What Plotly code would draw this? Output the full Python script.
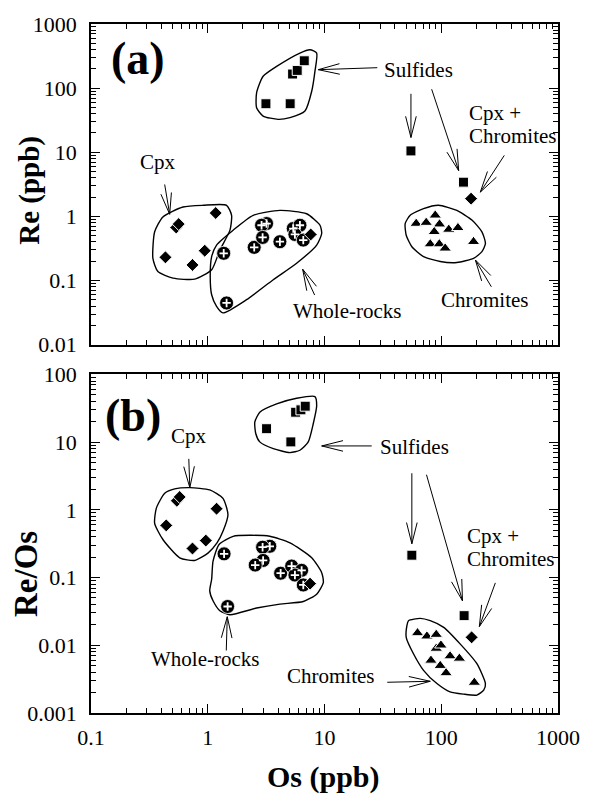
import math
import plotly.graph_objects as go

# ---------------- Panel (a): Re (ppb) vs Os (ppb) ----------------
sulf_os_a = [3.15, 5.08, 5.33, 5.84, 6.71]
sulf_re_a = [57.1, 57.1, 166, 189, 267]
sulf_iso_os_a = [55.0, 155]
sulf_iso_re_a = [10.5, 3.42]
cpx_os_a = [0.434, 0.740, 0.942, 1.17, 0.537, 0.564, 7.62]
cpx_re_a = [0.230, 0.175, 0.292, 1.13, 0.671, 0.760, 0.523]
cpxchr_os_a = [180]
cpxchr_re_a = [1.89]
wr_os_a = [1.37, 1.45, 2.50, 3.19, 2.89, 2.95, 4.15, 5.40, 6.16, 5.58, 6.58]
wr_re_a = [0.266, 0.0447, 0.329, 0.774, 0.728, 0.470, 0.403, 0.647, 0.728, 0.523, 0.427]
chr_os_a = [61.0, 74.3, 88.8, 96.6, 87.1, 116, 139, 80.5, 96.2, 108, 189]
chr_re_a = [0.774, 0.801, 1.04, 0.755, 0.575, 0.625, 0.664, 0.370, 0.370, 0.318, 0.403]

# group outlines, panel (a)
sulf_hull_a_os = [2.62, 2.98, 3.89, 6.16, 7.51, 8.57, 8.28, 7.77, 6.80, 5.06, 4.01, 2.98, 2.62]
sulf_hull_a_re = [84.5, 153, 218, 352, 396, 352, 183, 89.5, 43.9, 34.7, 32.6, 36.7, 49.5]
cpx_hull_a_os = [0.351, 0.413, 0.614, 0.912, 1.45, 1.60, 1.55, 1.27, 1.08, 0.773, 0.504, 0.374, 0.339]
cpx_hull_a_re = [0.575, 0.982, 1.40, 1.49, 1.49, 1.04, 0.610, 0.299, 0.147, 0.105, 0.109, 0.138, 0.222]
wr_hull_a_os = [1.19, 1.65, 2.45, 4.15, 7.03, 9.15, 9.46, 8.57, 5.77, 3.64, 2.15, 1.35, 1.19, 1.08, 1.05, 1.08]
wr_hull_a_re = [0.357, 0.610, 1.04, 1.24, 1.10, 0.728, 0.542, 0.357, 0.186, 0.103, 0.0503, 0.0313,
                0.0397, 0.0601, 0.116, 0.236]
chr_hull_a_os = [49.1, 54.2, 70.5, 94.8, 136, 184, 223, 239, 223, 189, 136, 98.0, 70.5, 56.0, 50.1]
chr_hull_a_re = [0.774, 1.04, 1.32, 1.49, 1.24, 0.871, 0.575, 0.379, 0.282, 0.222, 0.191, 0.198,
                 0.236, 0.337, 0.509]

# ---------------- Panel (b): Re/Os vs Os (ppb) ----------------
sulf_os_b = [3.19, 5.15, 5.66, 6.28, 6.84]
sulf_ratio_b = [15.8, 10.1, 27.7, 30.0, 34.0]
sulf_iso_os_b = [56.0, 157]
sulf_iso_ratio_b = [0.214, 0.0274]
cpx_os_b = [0.441, 0.740, 0.962, 1.19, 0.544, 0.575, 7.52]
cpx_ratio_b = [0.590, 0.269, 0.352, 1.04, 1.36, 1.55, 0.0814]
cpxchr_os_b = [182]
cpxchr_ratio_b = [0.0131]
wr_os_b = [1.38, 1.48, 3.40, 2.95, 2.98, 2.55, 4.21, 5.23, 6.37, 5.58, 6.58]
wr_ratio_b = [0.224, 0.0374, 0.290, 0.281, 0.179, 0.153, 0.116, 0.148, 0.128, 0.109, 0.0778]
chr_os_b = [62.6, 75.4, 90.6, 90.6, 99.4, 119, 143, 81.6, 98.0, 110, 192]
chr_ratio_b = [0.0152, 0.0136, 0.0144, 0.00897, 0.0100, 0.00692, 0.00640, 0.00598, 0.00500,
               0.00390, 0.00282]

# group outlines, panel (b)
sulf_hull_b_os = [2.53, 2.79, 3.89, 5.77, 8.28, 8.57, 8.01, 7.26, 6.16, 5.06, 3.64, 2.79, 2.58]
sulf_hull_b_ratio = [19.8, 27.7, 36.7, 44.5, 47.1, 34.8, 18.7, 10.1, 7.60, 7.01, 8.03, 10.1, 13.3]
cpx_hull_b_os = [0.363, 0.428, 0.521, 0.702, 1.04, 1.35, 1.49, 1.35, 1.20, 1.01, 0.773, 0.575, 0.413, 0.351]
cpx_hull_b_ratio = [1.06, 1.76, 2.04, 2.13, 1.97, 1.48, 0.847, 0.482, 0.325, 0.232, 0.179, 0.196,
                    0.365, 0.632]
wr_hull_b_os = [1.08, 1.11, 1.25, 1.65, 2.29, 3.40, 5.06, 7.77, 9.46, 9.77, 8.57, 6.58, 4.15, 2.62,
                1.55, 1.27, 1.11, 1.04]
wr_hull_b_ratio = [0.0944, 0.175, 0.308, 0.407, 0.421, 0.407, 0.325, 0.196, 0.118, 0.0841, 0.0569,
                   0.0443, 0.0406, 0.0355, 0.0283, 0.0324, 0.0454, 0.0637]
chr_hull_b_os = [52.4, 66.1, 80.5, 105, 145, 202, 239, 231, 202, 155, 119, 91.8, 70.5, 57.8, 50.1, 50.8]
chr_hull_b_ratio = [0.0231, 0.0250, 0.0231, 0.0184, 0.0105, 0.00536, 0.00272, 0.00217, 0.00184,
                    0.00190, 0.00205, 0.00272, 0.00427, 0.00750, 0.0131, 0.0195]

# axis ticks
x_ticks = [0.1, 1, 10, 100, 1000]
x_ticktext = ["0.1", "1", "10", "100", "1000"]
ya_ticks = [0.01, 0.1, 1, 10, 100, 1000]
ya_ticktext = ["0.01", "0.1", "1", "10", "100", "1000"]
yb_ticks = [0.001, 0.01, 0.1, 1, 10, 100]
yb_ticktext = ["0.001", "0.01", "0.1", "1", "10", "100"]

# ---------------- layout geometry ----------------
W, H = 594, 799
ML, MR, MT, MB = 91, 36, 19, 86
X_RANGE = (-1, 3)
YA_RANGE = (-2, 3)
YB_RANGE = (-3, 2)
plot_w = W - ML - MR
plot_h = H - MT - MB
DOM_A = [(plot_h - 323) / plot_h, 1.0]
DOM_B = [0.0, 341 / plot_h]

px_per_dec_x = plot_w / (X_RANGE[1] - X_RANGE[0])
px_per_dec_ya = plot_h * (DOM_A[1] - DOM_A[0]) / (YA_RANGE[1] - YA_RANGE[0])
px_per_dec_yb = plot_h * (DOM_B[1] - DOM_B[0]) / (YB_RANGE[1] - YB_RANGE[0])

SERIF = "Liberation Serif, Times New Roman, serif"
INK = "black"

fig = go.Figure()


def outline(xs, ys, xa, ya):
    fig.add_trace(go.Scatter(
        x=list(xs) + [xs[0]], y=list(ys) + [ys[0]], mode="lines",
        line=dict(color=INK, width=1.4, shape="spline", smoothing=0.6),
        xaxis=xa, yaxis=ya, hoverinfo="skip"))


def squares(xs, ys, xa, ya):
    fig.add_trace(go.Scatter(
        x=xs, y=ys, mode="markers", xaxis=xa, yaxis=ya,
        marker=dict(symbol="square", size=10, color=INK, line=dict(color="white", width=1))))


def diamonds(xs, ys, xa, ya):
    fig.add_trace(go.Scatter(
        x=xs, y=ys, mode="markers", xaxis=xa, yaxis=ya,
        marker=dict(symbol="diamond", size=10, color=INK, line=dict(color="white", width=1))))


def triangles(xs, ys, xa, ya):
    fig.add_trace(go.Scatter(
        x=xs, y=ys, mode="markers", xaxis=xa, yaxis=ya,
        marker=dict(symbol="triangle-up", size=11, color=INK, line=dict(color="white", width=1))))


def plus_circles(xs, ys, xa, ya):
    fig.add_trace(go.Scatter(
        x=xs, y=ys, mode="markers", xaxis=xa, yaxis=ya,
        marker=dict(symbol="circle", size=14, color=INK, line=dict(color="white", width=0.8))))
    fig.add_trace(go.Scatter(
        x=xs, y=ys, mode="markers", xaxis=xa, yaxis=ya,
        marker=dict(symbol="cross-thin", size=6, color="white", line=dict(color="white", width=1.8))))


def arrows(specs, xa, ya, ppy):
    """Open-headed arrows: tip in data units, tail given as a pixel offset (dx right, dy down)."""
    xs, ys = [], []
    barb_len, barb_ang = 22, math.radians(14)
    for (tx, ty), (dx, dy) in specs:
        lx, ly = math.log10(tx), math.log10(ty)

        def to_data(ox, oy):
            return 10 ** (lx + ox / px_per_dec_x), 10 ** (ly - oy / ppy)

        ex, ey = to_data(dx, dy)
        xs += [tx, ex, None]
        ys += [ty, ey, None]
        d = math.hypot(dx, dy)
        ux, uy = dx / d, dy / d
        for s in (1, -1):
            c, sn = math.cos(s * barb_ang), math.sin(s * barb_ang)
            bx = (ux * c - uy * sn) * barb_len
            by = (ux * sn + uy * c) * barb_len
            bxd, byd = to_data(bx, by)
            xs += [tx, bxd, None]
            ys += [ty, byd, None]
    fig.add_trace(go.Scatter(x=xs, y=ys, mode="lines", xaxis=xa, yaxis=ya,
                             line=dict(color=INK, width=1), hoverinfo="skip"))


# ---- panel (a) ----
for hx, hy in [(sulf_hull_a_os, sulf_hull_a_re), (cpx_hull_a_os, cpx_hull_a_re),
               (wr_hull_a_os, wr_hull_a_re), (chr_hull_a_os, chr_hull_a_re)]:
    outline(hx, hy, "x", "y")
squares(sulf_os_a, sulf_re_a, "x", "y")
squares(sulf_iso_os_a, sulf_iso_re_a, "x", "y")
plus_circles(wr_os_a, wr_re_a, "x", "y")
diamonds(cpx_os_a, cpx_re_a, "x", "y")
diamonds(cpxchr_os_a, cpxchr_re_a, "x", "y")
triangles(chr_os_a, chr_re_a, "x", "y")
arrows([((8.85, 194), (59, -2)), ((55.0, 17.0), (0, -44)), ((141, 5.17), (-27, -82)),
        ((216, 2.39), (24, -37)), ((0.472, 1.08), (-5, -30)), ((6.50, 0.150), (12, 26)),
        ((196, 0.209), (16, 27))], "x", "y", px_per_dec_ya)

# ---- panel (b) ----
for hx, hy in [(sulf_hull_b_os, sulf_hull_b_ratio), (cpx_hull_b_os, cpx_hull_b_ratio),
               (wr_hull_b_os, wr_hull_b_ratio), (chr_hull_b_os, chr_hull_b_ratio)]:
    outline(hx, hy, "x2", "y2")
squares(sulf_os_b, sulf_ratio_b, "x2", "y2")
squares(sulf_iso_os_b, sulf_iso_ratio_b, "x2", "y2")
plus_circles(wr_os_b, wr_ratio_b, "x2", "y2")
diamonds(cpx_os_b, cpx_ratio_b, "x2", "y2")
diamonds(cpxchr_os_b, cpxchr_ratio_b, "x2", "y2")
triangles(chr_os_b, chr_ratio_b, "x2", "y2")
arrows([((9.46, 8.80), (50, 0)), ((56.0, 0.316), (0, -71)), ((152, 0.0454), (-36, -127)),
        ((212, 0.0189), (16, -44)), ((80.5, 0.00294), (-43, 1)), ((0.702, 2.13), (-1, -29)),
        ((1.47, 0.0264), (-1, 34))], "x2", "y2", px_per_dec_yb)


def label(text, lx, ly, xa, ya, size=21, bold=False, xanchor="center", yshift=3):
    return dict(text=f"<b>{text}</b>" if bold else text, x=lx, y=ly, xref=xa, yref=ya,
                showarrow=False, xanchor=xanchor, yanchor="middle", yshift=yshift,
                font=dict(family=SERIF, size=size, color=INK))


def title(text, px, py, size, angle=0):
    return dict(text=f"<b>{text}</b>", x=(px - ML) / plot_w, y=(H - MB - py) / plot_h,
                xref="paper", yref="paper", showarrow=False, textangle=angle,
                xanchor="center", yanchor="middle",
                font=dict(family=SERIF, size=size, color=INK))


annotations = [
    label("(a)", -0.598, 2.339, "x", "y", size=46, bold=True, yshift=8),
    label("Sulfides", 1.803, 2.241, "x", "y"),
    label("Cpx +", 2.221, 1.560, "x", "y", xanchor="left"),
    label("Chromites", 2.221, 1.204, "x", "y", xanchor="left"),
    label("Cpx", -0.427, 0.807, "x", "y"),
    label("Whole-rocks", 1.193, -1.520, "x", "y"),
    label("Chromites", 2.378, -1.350, "x", "y"),
    label("(b)", -0.641, 1.271, "x2", "y2", size=46, bold=True, yshift=8),
    label("Cpx", -0.161, 1.047, "x2", "y2"),
    label("Sulfides", 1.770, 0.881, "x2", "y2"),
    label("Cpx +", 2.206, -0.427, "x2", "y2", xanchor="left"),
    label("Chromites", 2.206, -0.768, "x2", "y2", xanchor="left"),
    label("Chromites", 1.448, -2.491, "x2", "y2", xanchor="right"),
    label("Whole-rocks", -0.026, -2.248, "x2", "y2"),
    title("Re (ppb)", 30, 187, 29, -90),
    title("Re/Os", 26, 573, 33, -90),
    title("Os (ppb)", 323, 777, 30),
]

tick_font = dict(family=SERIF, size=22, color=INK)
common = dict(type="log", showline=True, linewidth=1.6, linecolor=INK, mirror="allticks",
              ticks="inside", ticklen=9, tickwidth=1.2, tickcolor=INK, showgrid=False,
              zeroline=False, tickfont=tick_font,
              minor=dict(ticks="inside", ticklen=5, tickwidth=1, tickcolor=INK,
                         dtick="D1", showgrid=False))

fig.update_layout(
    width=W, height=H, margin=dict(l=ML, r=MR, t=MT, b=MB),
    paper_bgcolor="white", plot_bgcolor="white", showlegend=False,
    xaxis=dict(common, range=list(X_RANGE), domain=[0, 1], anchor="y",
               tickmode="array", tickvals=x_ticks, ticktext=x_ticktext, showticklabels=False),
    yaxis=dict(common, range=list(YA_RANGE), domain=DOM_A, anchor="x",
               tickmode="array", tickvals=ya_ticks, ticktext=ya_ticktext, ticklabelstandoff=8),
    xaxis2=dict(common, range=list(X_RANGE), domain=[0, 1], anchor="y2", matches="x",
                tickmode="array", tickvals=x_ticks, ticktext=x_ticktext, ticklabelstandoff=4),
    yaxis2=dict(common, range=list(YB_RANGE), domain=DOM_B, anchor="x2",
                tickmode="array", tickvals=yb_ticks, ticktext=yb_ticktext, ticklabelstandoff=8),
    annotations=annotations,
)

fig.write_html("out.html")
